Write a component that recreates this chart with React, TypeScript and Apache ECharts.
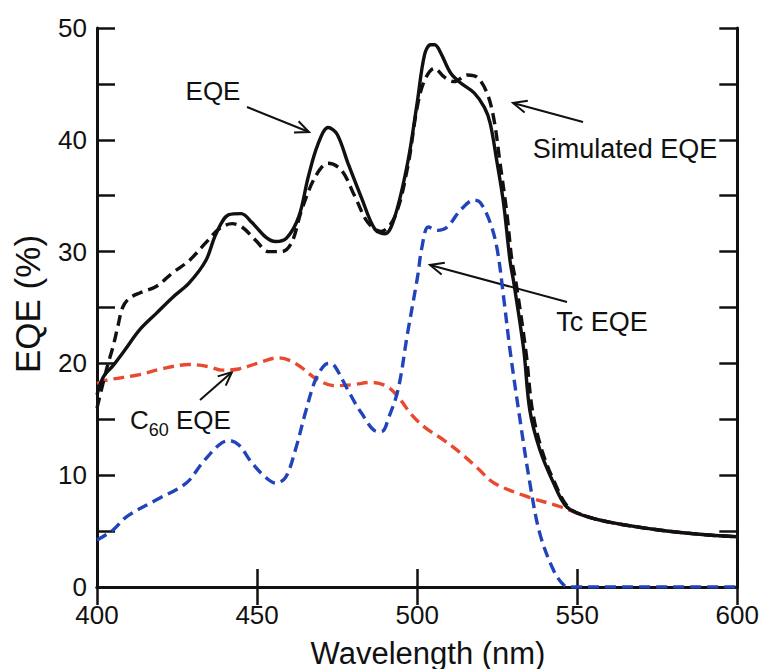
import React, { useEffect, useRef } from "react";
import * as echarts from "echarts";

// Wavelength (nm) / EQE (%) pairs
const measuredEQE: [number, number][] = [
  [400, 17.2], [402, 18.8], [405, 19.8], [408.7, 21.2], [413.3, 23.0], [418.6, 24.5],
  [423.6, 25.9], [428.8, 27.2], [434, 29.2], [437.2, 31.6], [441.2, 33.3], [445, 33.4],
  [448.4, 32.6], [452.7, 31.3], [455.8, 30.9], [459.2, 31.2], [463, 33.1], [466, 36.7],
  [469, 39.6], [472.2, 41.1], [475, 40.5], [478.4, 37.9], [482.5, 34.9], [486.8, 32.0],
  [490, 31.6], [493, 33.1], [497, 37.9], [500, 43.3], [502.3, 47.6], [504.2, 48.5],
  [505.5, 48.5], [507.3, 47.8], [510.4, 46.0], [513.5, 45.1], [517.8, 44.2], [521, 42.9],
  [522.8, 41.5], [525, 37.9], [527, 34.3], [529, 29.2], [530.2, 27.2], [533.3, 21.2],
  [535.2, 15.8], [538.3, 12.3], [542.6, 9.3], [546.6, 7.2], [551.9, 6.4], [560, 5.8],
  [575.5, 5.1], [591, 4.65], [600, 4.5],
];

const simulatedEQE: [number, number][] = [
  [400, 16], [403, 19.5], [405, 21.5], [406.5, 23.3], [408, 25], [410, 25.8], [413.3, 26.3],
  [418.6, 26.9], [423.6, 28.1], [428.8, 29.2], [434, 30.8], [438, 32.0], [442.2, 32.5],
  [445.3, 32.2], [449.6, 31.0], [453.6, 30.0], [457.7, 30.0], [460.8, 30.8], [463.9, 33.7],
  [468.2, 36.7], [472.2, 37.9], [476.3, 37.3], [480.6, 34.9], [484.6, 32.6], [488.7, 31.8],
  [493, 33.1], [497, 37.5], [500, 42.9], [502.3, 45.3], [505.4, 46.4], [508.5, 45.6],
  [511.6, 45.2], [515.6, 45.8], [518.7, 45.6], [521.8, 44.2], [524, 41.8], [525.9, 37.9],
  [528, 33.5], [529.6, 29.2], [531, 27.0], [534, 21.0], [536, 15.8], [539, 12.2], [543, 9.3],
  [547, 7.2], [552, 6.4], [560, 5.8], [575.5, 5.1], [591, 4.65], [600, 4.5],
];

const tcEQE: [number, number][] = [
  [400, 4.2], [405, 5.1], [409.3, 6.3], [418.6, 7.8], [427.9, 9.3], [432.9, 11.1],
  [438.1, 12.7], [441.2, 13.1], [444.3, 12.7], [448.4, 11.1], [452.7, 9.8], [455.8, 9.3],
  [458.9, 9.8], [462, 12.3], [465.1, 15.6], [468.2, 18.5], [471.3, 19.9], [473, 20.0],
  [474.4, 19.7], [478.4, 17.6], [482.5, 15.6], [487.7, 13.9], [489.5, 14.0], [490.8, 14.9],
  [494, 17.6], [497, 22.7], [500.1, 27.7], [501.5, 30.4], [503.5, 32.2], [506.3, 31.9],
  [509.4, 32.2], [513.5, 33.7], [517.8, 34.6], [519.7, 34.4], [522.8, 32.6], [525, 30.2],
  [527.1, 25.7], [529, 21.2], [532, 15.2], [535.2, 9.3], [538.3, 4.8], [542.6, 1.5],
  [545.7, 0.2], [548, 0], [600, 0],
];

const c60EQE: [number, number][] = [
  [400, 18.2], [403, 18.5], [413.3, 19.0], [420, 19.5], [428.8, 19.9], [435, 19.7],
  [439, 19.4], [444.3, 19.5], [450, 20.0], [456.7, 20.5], [462, 20.0], [469.1, 18.5],
  [474.4, 18.0], [480, 18.1], [485.6, 18.3], [490.8, 17.9], [494.9, 16.7], [498, 15.5],
  [502.3, 14.3], [508.5, 13.1], [513.5, 12.0], [519, 10.6], [524, 9.3], [534.2, 8.1],
  [544.5, 7.2], [552, 6.4], [560, 5.8], [575.5, 5.1], [591, 4.65], [600, 4.5],
];

const xTicks = { min: 400, max: 600, step: 50 };
const yTicks = { min: 0, max: 50, step: 5, labelStep: 10 };

const FONT = "'Liberation Sans', Arial, Helvetica, sans-serif";

function arrow(x1: number, y1: number, x2: number, y2: number) {
  const ang = Math.atan2(y2 - y1, x2 - x1);
  const len = 15;
  const spread = 0.42;
  const a1 = ang + Math.PI - spread;
  const a2 = ang + Math.PI + spread;
  return {
    type: "group",
    children: [
      { type: "line", shape: { x1, y1, x2, y2 }, style: { stroke: "#111", lineWidth: 2 } },
      {
        type: "polyline",
        shape: {
          points: [
            [x2 + len * Math.cos(a1), y2 + len * Math.sin(a1)],
            [x2, y2],
            [x2 + len * Math.cos(a2), y2 + len * Math.sin(a2)],
          ],
        },
        style: { stroke: "#111", lineWidth: 2, fill: "none" },
      },
    ],
  };
}

export default function App() {
  const ref = useRef<HTMLDivElement>(null);
  useEffect(() => {
    if (!ref.current) return;
    const chart = echarts.init(ref.current, undefined, { renderer: "svg" });
    const axisLine = { show: true, lineStyle: { color: "#111", width: 3 } };
    const tick = { show: true, inside: true, length: 18, lineStyle: { color: "#111", width: 2.5 } };
    const lineSeries = (name: string, data: [number, number][], color: string, dashed: boolean, z: number) => ({
      name,
      type: "line",
      data,
      smooth: 0.35,
      showSymbol: false,
      symbol: "none",
      z,
      lineStyle: {
        color,
        width: 3.4,
        type: dashed ? [11, 6] : "solid",
      },
    });
    chart.setOption({
      animation: false,
      backgroundColor: "#fff",
      grid: { left: 97, right: 20, top: 28, bottom: 82 },
      xAxis: [
        {
          type: "value",
          min: xTicks.min,
          max: xTicks.max,
          interval: xTicks.step,
          axisLine,
          axisTick: tick,
          splitLine: { show: false },
          axisLabel: { color: "#111", fontSize: 26, fontFamily: FONT, margin: 15 },
        },
        {
          type: "value",
          position: "top",
          min: xTicks.min,
          max: xTicks.max,
          interval: xTicks.step,
          axisLine,
          axisTick: tick,
          splitLine: { show: false },
          axisLabel: { show: false },
        },
      ],
      yAxis: [
        {
          type: "value",
          min: yTicks.min,
          max: yTicks.max,
          interval: yTicks.step,
          axisLine,
          axisTick: tick,
          splitLine: { show: false },
          axisLabel: {
            color: "#111",
            fontSize: 26,
            fontFamily: FONT,
            margin: 10,
            formatter: (v: number) => (v % yTicks.labelStep === 0 ? String(v) : ""),
          },
        },
        {
          type: "value",
          position: "right",
          min: yTicks.min,
          max: yTicks.max,
          interval: yTicks.step,
          axisLine,
          axisTick: tick,
          splitLine: { show: false },
          axisLabel: { show: false },
        },
      ],
      series: [
        lineSeries("C60 EQE", c60EQE, "#e8492f", true, 2),
        lineSeries("Tc EQE", tcEQE, "#2244bb", true, 3),
        lineSeries("Simulated EQE", simulatedEQE, "#111", true, 4),
        lineSeries("EQE", measuredEQE, "#111", false, 5),
      ],
      graphic: [
        {
          type: "text",
          x: 428,
          y: 653,
          style: { text: "Wavelength (nm)", font: `31px ${FONT}`, fill: "#111", align: "center", verticalAlign: "middle" },
        },
        {
          type: "text",
          x: 27,
          y: 304,
          rotation: Math.PI / 2,
          style: { text: "EQE (%)", font: `35px ${FONT}`, fill: "#111", align: "center", verticalAlign: "middle" },
        },
        {
          type: "text",
          x: 213,
          y: 91,
          style: { text: "EQE", font: `26px ${FONT}`, fill: "#111", align: "center", verticalAlign: "middle" },
        },
        {
          type: "text",
          x: 625,
          y: 149,
          style: { text: "Simulated EQE", font: `27px ${FONT}`, fill: "#111", align: "center", verticalAlign: "middle" },
        },
        {
          type: "text",
          x: 602,
          y: 322,
          style: { text: "Tc EQE", font: `27px ${FONT}`, fill: "#111", align: "center", verticalAlign: "middle" },
        },
        {
          type: "text",
          x: 130,
          y: 420,
          style: {
            text: "{a|C}{b|60}{a| EQE}",
            fill: "#111",
            align: "left",
            verticalAlign: "middle",
            rich: {
              a: { fontSize: 26, fontFamily: FONT, fill: "#111", verticalAlign: "bottom" },
              b: { fontSize: 18, fontFamily: FONT, fill: "#111", verticalAlign: "bottom", padding: [0, 0, -6, 0] },
            },
          },
        },
        arrow(247, 107, 309, 132),
        arrow(583, 122, 513, 103),
        arrow(567, 302, 430, 265),
        arrow(200, 400, 232, 372),
      ],
    });
    return () => chart.dispose();
  }, []);
  return (
    <div
      ref={ref}
      style={{ position: "fixed", left: 0, top: 0, width: 762, height: 669, background: "#fff" }}
    />
  );
}
